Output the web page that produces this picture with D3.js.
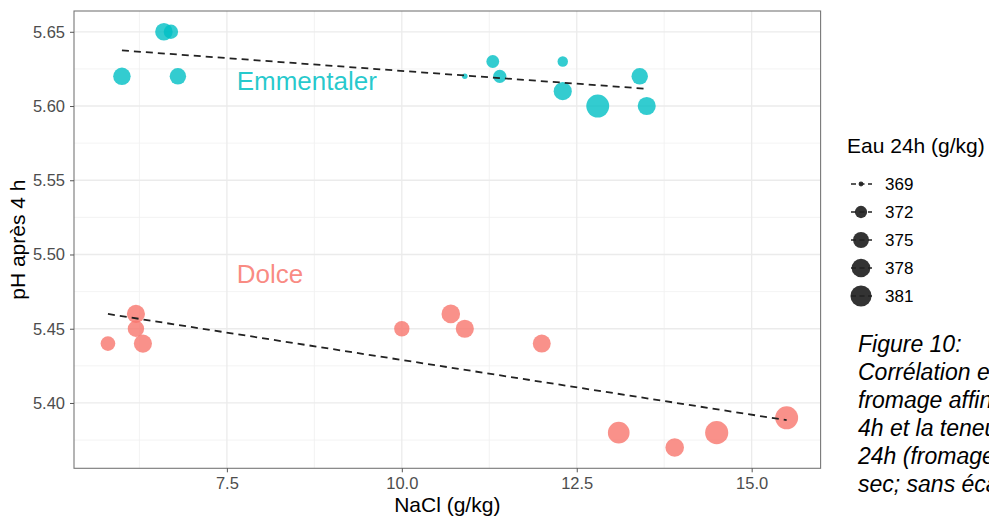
<!DOCTYPE html>
<html>
<head>
<meta charset="UTF-8">
<title>pH après 4 h vs NaCl</title>
<script src="https://cdn.jsdelivr.net/npm/d3@7"></script>
<style>
  body { margin: 0; background: #fff; overflow: hidden; }
  svg { display: block; font-family: "Liberation Sans", Arial, sans-serif; }
  .tick text { fill: #4d4d4d; font-size: 16.5px; }
  .tick line { stroke: #555; }
</style>
</head>
<body>
<svg id="chart" width="989" height="517"></svg>
<script>
// Emmentaler
var emmNaCl = [6.0, 6.6, 6.7, 6.8, 10.9, 11.3, 11.4, 12.3, 12.3, 12.8, 13.4, 13.5];
var emmPH   = [5.62, 5.65, 5.65, 5.62, 5.62, 5.63, 5.62, 5.63, 5.61, 5.60, 5.62, 5.60];
var emmEau  = [376.6, 376.6, 373.6, 375.5, 369.1, 372.4, 372.7, 370.9, 377.3, 383.6, 375.5, 377.3];

// Dolce
var dolNaCl = [5.8, 6.2, 6.2, 6.3, 10.0, 10.7, 10.9, 12.0, 13.1, 13.9, 14.5, 15.5];
var dolPH   = [5.44, 5.46, 5.45, 5.44, 5.45, 5.46, 5.45, 5.44, 5.38, 5.37, 5.38, 5.39];
var dolEau  = [373.9, 377.3, 375.5, 377.3, 374.5, 377.8, 377.3, 377.1, 381.8, 377.8, 383.9, 383.6];

var xTicks = [7.5, 10.0, 12.5, 15.0];
var xMinor = [6.25, 8.75, 11.25, 13.75];
var yTicks = [5.40, 5.45, 5.50, 5.55, 5.60, 5.65];
var yMinor = [5.375, 5.425, 5.475, 5.525, 5.575, 5.625];
var eauBreaks = [369, 372, 375, 378, 381];

var captionLines = [
  "Figure 10:",
  "Corrélation entre le pH du",
  "fromage affiné après",
  "4h et la teneur en NaCl à",
  "24h (fromage dégraissé",
  "sec; sans écart)"
];

var series = [
  { name: "Emmentaler", color: "#00BFC4", x: emmNaCl, y: emmPH, eau: emmEau, label: [7.64, 5.6168] },
  { name: "Dolce", color: "#F8766D", x: dolNaCl, y: dolPH, eau: dolEau, label: [7.64, 5.4866] }
];

var panel = { left: 74, right: 820.6, top: 11, bottom: 468.3 };

function expand(ext) {
  var d = (ext[1] - ext[0]) * 0.05;
  return [ext[0] - d, ext[1] + d];
}

var x = d3.scaleLinear()
  .domain(expand(d3.extent(emmNaCl.concat(dolNaCl))))
  .range([panel.left, panel.right]);
var y = d3.scaleLinear()
  .domain(expand(d3.extent(emmPH.concat(dolPH))))
  .range([panel.bottom, panel.top]);

// point size: area-like scale on water content
var rBase = 368.9;
var rScale = d3.scaleSqrt().domain([0, 15.1]).range([0, 10.0]);
function radius(v) { return 1.6 + rScale(Math.max(0, v - rBase)); }

var svg = d3.select("#chart");

// grid
var grid = svg.append("g");
grid.selectAll(".xminor").data(xMinor).enter().append("line")
  .attr("x1", x).attr("x2", x).attr("y1", panel.top).attr("y2", panel.bottom)
  .attr("stroke", "#f0f0f0").attr("stroke-width", 0.8);
grid.selectAll(".yminor").data(yMinor).enter().append("line")
  .attr("y1", y).attr("y2", y).attr("x1", panel.left).attr("x2", panel.right)
  .attr("stroke", "#f0f0f0").attr("stroke-width", 0.8);
grid.selectAll(".xmajor").data(xTicks).enter().append("line")
  .attr("x1", x).attr("x2", x).attr("y1", panel.top).attr("y2", panel.bottom)
  .attr("stroke", "#ebebeb").attr("stroke-width", 1.3);
grid.selectAll(".ymajor").data(yTicks).enter().append("line")
  .attr("y1", y).attr("y2", y).attr("x1", panel.left).attr("x2", panel.right)
  .attr("stroke", "#ebebeb").attr("stroke-width", 1.3);

// points
series.forEach(function(s) {
  var pts = s.x.map(function(v, i) { return { x: v, y: s.y[i], eau: s.eau[i] }; });
  svg.append("g").selectAll("circle").data(pts).enter().append("circle")
    .attr("cx", function(d) { return x(d.x); })
    .attr("cy", function(d) { return y(d.y); })
    .attr("r", function(d) { return radius(d.eau); })
    .attr("fill", s.color)
    .attr("fill-opacity", 0.8);
});

// linear regression per group
function fit(xs, ys) {
  var mx = d3.mean(xs), my = d3.mean(ys);
  var sxy = d3.sum(xs, function(v, i) { return (v - mx) * (ys[i] - my); });
  var sxx = d3.sum(xs, function(v) { return (v - mx) * (v - mx); });
  var b = sxy / sxx;
  return function(v) { return my + b * (v - mx); };
}
var line = d3.line().x(function(d) { return x(d[0]); }).y(function(d) { return y(d[1]); });
series.forEach(function(s) {
  var f = fit(s.x, s.y);
  var ext = d3.extent(s.x);
  svg.append("path")
    .attr("d", line([[ext[0], f(ext[0])], [ext[1], f(ext[1])]]))
    .attr("fill", "none")
    .attr("stroke", "#222")
    .attr("stroke-width", 1.8)
    .attr("stroke-dasharray", "7,5");
});

// group labels
series.forEach(function(s) {
  svg.append("text")
    .attr("x", x(s.label[0]))
    .attr("y", y(s.label[1]))
    .attr("dy", "0.35em")
    .attr("fill", s.color)
    .attr("fill-opacity", 0.85)
    .attr("font-size", "26px")
    .text(s.name);
});

// panel border
svg.append("rect")
  .attr("x", panel.left).attr("y", panel.top)
  .attr("width", panel.right - panel.left).attr("height", panel.bottom - panel.top)
  .attr("fill", "none").attr("stroke", "#777").attr("stroke-width", 1.1);

// axes
svg.append("g")
  .attr("transform", "translate(0," + panel.bottom + ")")
  .call(d3.axisBottom(x).tickValues(xTicks).tickFormat(d3.format(".1f")).tickSize(4).tickPadding(5))
  .call(function(g) { g.select(".domain").remove(); })
  .selectAll("text").attr("font-family", null).attr("font-size", null);

svg.append("g")
  .attr("transform", "translate(" + panel.left + ",0)")
  .call(d3.axisLeft(y).tickValues(yTicks).tickFormat(d3.format(".2f")).tickSize(4).tickPadding(5))
  .call(function(g) { g.select(".domain").remove(); })
  .selectAll("text").attr("font-family", null).attr("font-size", null);

svg.append("text")
  .attr("x", (panel.left + panel.right) / 2).attr("y", 512)
  .attr("text-anchor", "middle").attr("font-size", "21px").attr("fill", "#000")
  .text("NaCl (g/kg)");

svg.append("text")
  .attr("transform", "translate(25," + (panel.top + panel.bottom) / 2 + ") rotate(-90)")
  .attr("text-anchor", "middle").attr("font-size", "21px").attr("fill", "#000")
  .text("pH après 4 h");

// legend
var legend = svg.append("g");
legend.append("text")
  .attr("x", 847).attr("y", 153)
  .attr("font-size", "21px").attr("fill", "#000")
  .text("Eau 24h (g/kg)");
var keys = legend.selectAll(".key").data(eauBreaks).enter().append("g")
  .attr("transform", function(d, i) { return "translate(861," + (184 + i * 28) + ")"; });
keys.append("circle")
  .attr("r", radius)
  .attr("fill", "#000").attr("fill-opacity", 0.8);
keys.append("line")
  .attr("x1", -10).attr("x2", 11)
  .attr("stroke", "#222").attr("stroke-width", 1.5)
  .attr("stroke-dasharray", "5,3.5");
keys.append("text")
  .attr("x", 24).attr("dy", "0.35em")
  .attr("font-size", "17px").attr("fill", "#000")
  .text(function(d) { return d; });

// caption
svg.append("g").selectAll("text").data(captionLines).enter().append("text")
  .attr("x", 858)
  .attr("y", function(d, i) { return 352 + i * 28; })
  .attr("font-size", "23px").attr("font-style", "italic").attr("fill", "#000")
  .text(function(d) { return d; });
</script>
</body>
</html>
